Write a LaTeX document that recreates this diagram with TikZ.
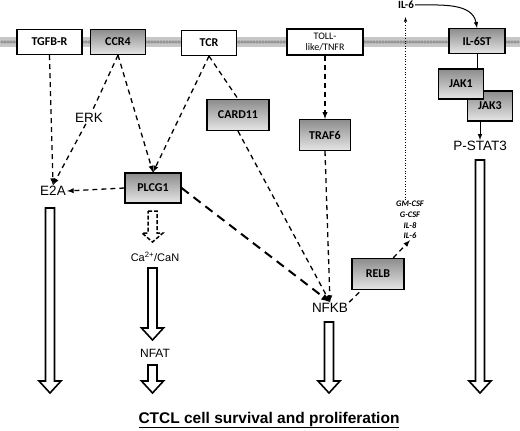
\documentclass[tikz,border=0pt]{standalone}
\usepackage{fontspec}
\setmainfont{Liberation Sans}
\newfontfamily\boxfont{Carlito}
\usetikzlibrary{arrows,shapes,positioning,decorations.pathreplacing}

\tikzset{
  recbox/.style={draw, line width=1.2pt, fill=white, inner sep=0pt, minimum height=25,
    font=\boxfont\bfseries\fontsize{12}{13}\selectfont},
  protbox/.style={recbox, top color=black!45, bottom color=black!10},
  lbl/.style={inner sep=1pt, font=\fontsize{13.5}{15}\selectfont},
  dasharrow/.style={-latex, line width=1.3pt, dash pattern=on 5pt off 4pt},
  dashline/.style={line width=1.3pt, dash pattern=on 5pt off 4pt},
}

% hollow block arrow: x, top, bottom
\newcommand{\hollowarrow}[3]{%
  \draw[line width=1.6pt, fill=white] (#1-4.5,#2) -- (#1+4.5,#2) -- (#1+4.5,#3-12)
    -- (#1+11,#3-12) -- (#1,#3) -- (#1-11,#3-12) -- (#1-4.5,#3-12) -- cycle;}

\begin{document}
\begin{tikzpicture}[x=1pt,y=-1pt]
  \useasboundingbox (0,0) rectangle (520,431);

  % membrana
  \fill[black!22] (0,37) rectangle (520,47);
  \foreach \x in {2,5,...,520}
    \draw[black!60, line width=0.3pt] (\x,42) circle (1.3);

  % receptores
  \node[recbox, minimum width=65] (tgfbr) at (49.5,42) {TGFB-R};
  \node[protbox, minimum width=55] (ccr4) at (118,42) {CCR4};
  \node[recbox, minimum width=55] (tcr) at (209,43) {TCR};
  \node[recbox, minimum width=76, minimum height=26, align=center,
        font=\boxfont\fontsize{10}{11}\selectfont] (toll) at (325,42) {TOLL-\\like/TNFR};
  \node[protbox, minimum width=56] (il6st) at (477,41) {IL-6ST};

  % proteinas
  \node[protbox, minimum width=62, minimum height=31] (card11) at (238,115) {CARD11};
  \node[protbox, minimum width=51, minimum height=31] (traf6) at (325,135) {TRAF6};
  \node[protbox, minimum width=56, minimum height=30] (plcg1) at (153,188) {PLCG1};
  \node[protbox, minimum width=52, minimum height=31] (relb) at (378,274) {RELB};
  \node[protbox, minimum width=45, minimum height=30] (jak3) at (490,106) {JAK3};
  \node[protbox, minimum width=45, minimum height=30] (jak1) at (461,84) {JAK1};

  % textos
  \node[lbl] (erk) at (89,118) {ERK};
  \node[lbl] (e2a) at (53,191) {E2A};
  \node[lbl, font=\fontsize{11}{13}\selectfont] (ca) at (155,257) {Ca\textsuperscript{2+}/CaN};
  \node[lbl, font=\fontsize{12}{14}\selectfont] (nfat) at (155,353) {NFAT};
  \node[lbl] (nfkb) at (330,308) {NFKB};
  \node[lbl] (pstat3) at (480,146) {P-STAT3};
  \node[inner sep=1pt, font=\boxfont\bfseries\fontsize{11}{12}\selectfont] (il6) at (406,5) {IL-6};
  \node[inner sep=1pt, align=center, font=\boxfont\bfseries\itshape\fontsize{8.5}{10.8}\selectfont]
    (cyto) at (410,220) {GM-CSF\\G-CSF\\IL-8\\IL-6};
  \coordinate (secr) at (405.5,17);

  % conexiones
  \draw[dasharrow] (tgfbr.south) -- (e2a.north);
  \draw[dasharrow] (ccr4.south) -- (erk) -- (e2a.north);
  \draw[dasharrow] (ccr4.south) -- (plcg1.north);
  \draw[dasharrow] (tcr.south) -- (plcg1.north);
  \draw[dashline] (tcr.south) -- (card11.north);
  \draw[dasharrow] (plcg1.west) -- (e2a.east);
  \draw[dasharrow] (toll.south) -- (traf6.north);
  \draw[dasharrow] (card11.south) -- (nfkb.north);
  \draw[dasharrow] (traf6.south) -- (nfkb.north);
  \draw[-latex, line width=2pt, dash pattern=on 9pt off 6pt] (plcg1.east) -- (nfkb.north);
  \draw[dashline] (nfkb.north east) -- (relb);
  \draw[dasharrow] (relb) -- (cyto.south);
  \draw[-latex, line width=0.6pt, dotted] ([xshift=-4.5]cyto.north) -- (secr);
  \draw[-latex, line width=1pt] (il6.east) to[out=0, in=100] (il6st.north);
  \draw[line width=1pt] (il6st.south) -- (il6st.south |- jak1.north);
  \draw[-latex, line width=1pt] (jak3.south -| pstat3.north) -- (pstat3.north);

  % PLCG1 -> Ca2+/CaN
  \draw[line width=1.5pt, dash pattern=on 4pt off 2pt] (148,211) -- (157,211) -- (157,233)
    -- (163,233) -- (152.5,242) -- (142,233) -- (148,233) -- cycle;

  % flechas de salida
  \hollowarrow{50}{208}{393}
  \hollowarrow{152.5}{268}{340}
  \hollowarrow{152.5}{365}{393}
  \hollowarrow{329}{322}{393}
  \hollowarrow{480}{160}{393}

  \node[font=\bfseries\fontsize{15.5}{17}\selectfont] (titulo) at (269,420)
    {\underline{CTCL cell survival and proliferation}};
\end{tikzpicture}
\end{document}
